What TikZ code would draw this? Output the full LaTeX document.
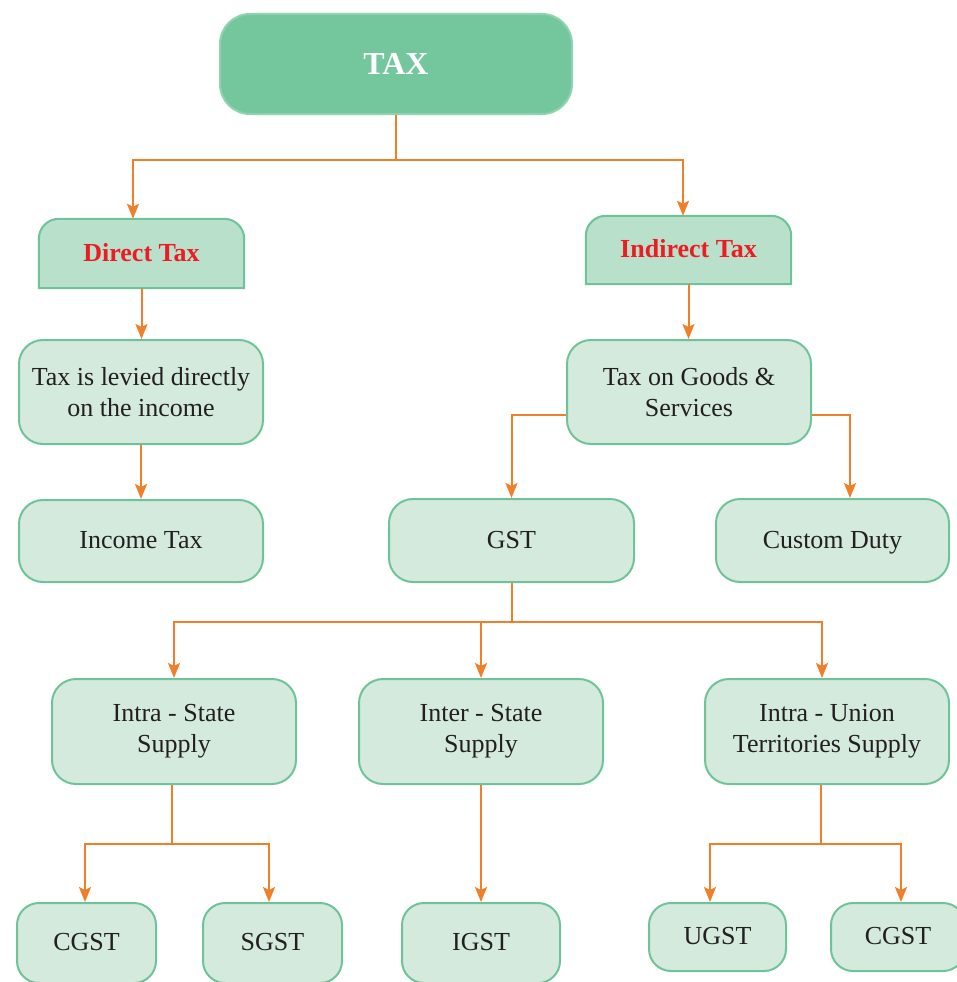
\documentclass[tikz,border=0pt]{standalone}
\usepackage{fontspec}
\setmainfont{Liberation Serif}
\usetikzlibrary{arrows.meta}
\definecolor{taxfill}{RGB}{116,199,157}
\definecolor{taxedge}{RGB}{140,212,176}
\definecolor{headfill}{RGB}{184,224,202}
\definecolor{boxfill}{RGB}{212,234,221}
\definecolor{boxedge}{RGB}{110,196,152}
\definecolor{headred}{RGB}{237,28,36}
\definecolor{linkorange}{RGB}{240,127,42}
\definecolor{ink}{RGB}{35,31,32}
\pgfdeclarelayer{bg}
\pgfsetlayers{bg,main}
\tikzset{
  x=1pt, y=-1pt,
  box/.style={rectangle, rounded corners=24pt, draw=boxedge, fill=boxfill,
    line width=2pt, align=center, inner sep=0pt, text=ink,
    font=\fontsize{26}{31}\selectfont},
  oneline/.style={text height=21pt, text depth=6pt},
  headbox/.style={rectangle, inner sep=0pt, text=headred,
    text height=21pt, text depth=6pt,
    font=\fontsize{26}{31}\selectfont\bfseries},
  headshape/.style={fill=headfill, draw=boxedge, line width=2pt},
  arr/.style={draw=linkorange, line width=2pt,
    -{Stealth[length=15pt, width=12pt, inset=3pt]}}
}
\begin{document}
\begin{tikzpicture}
\useasboundingbox (0,0) rectangle (957,982);
\clip (0,0) rectangle (957,982);

% root
\node[rectangle, rounded corners=30pt, draw=taxedge, fill=taxfill, line width=2pt,
      minimum width=352pt, minimum height=100pt, text=white,
      font=\fontsize{32}{38}\selectfont\bfseries] (tax) at (396,64) {TAX};

% the two branches (boxes rounded only on top)
\node[headbox, minimum width=205pt, minimum height=69pt] (dt) at (141.5,253.5) {Direct Tax};
\node[headbox, minimum width=205pt, minimum height=68pt] (it) at (688.5,250) {Indirect Tax};
\begin{pgfonlayer}{bg}
  \foreach \n in {dt,it}{
    \filldraw[headshape] (\n.south west)
      -- ([yshift=-20pt]\n.north west)
      .. controls ([yshift=-9pt]\n.north west) and ([xshift=9pt]\n.north west) .. ([xshift=20pt]\n.north west)
      -- ([xshift=-20pt]\n.north east)
      .. controls ([xshift=-9pt]\n.north east) and ([yshift=-9pt]\n.north east) .. ([yshift=-20pt]\n.north east)
      -- (\n.south east) -- cycle;
  }
\end{pgfonlayer}

% second level
\node[box, minimum width=244pt, minimum height=104pt] (lev) at (141,392) {Tax is levied directly\\on the income};
\node[box, oneline, minimum width=244pt, minimum height=82pt] (inc) at (141,541) {Income Tax};
\node[box, minimum width=244pt, minimum height=104pt] (tog) at (689,392) {Tax on Goods \&\\Services};
\node[box, oneline, minimum width=245pt, minimum height=83pt] (gst) at (511.5,540.5) {GST};
\node[box, oneline, minimum width=233pt, minimum height=83pt] (cus) at (832.5,540.5) {Custom Duty};

% supply types
\node[box, minimum width=244pt, minimum height=105pt] (intra) at (174,731.5) {Intra - State\\Supply};
\node[box, minimum width=244pt, minimum height=105pt] (inter) at (481,731.5) {Inter - State\\Supply};
\node[box, minimum width=244pt, minimum height=105pt] (union) at (827,731.5) {Intra - Union\\Territories Supply};

% leaves
\node[box, oneline, rounded corners=22pt, minimum width=139pt, minimum height=80pt] (cg1) at (86.5,943) {CGST};
\node[box, oneline, rounded corners=22pt, minimum width=139pt, minimum height=80pt] (sg) at (272.5,943) {SGST};
\node[box, oneline, rounded corners=22pt, minimum width=158pt, minimum height=80pt] (ig) at (481,943) {IGST};
\node[box, oneline, rounded corners=22pt, minimum width=137pt, minimum height=68pt] (ug) at (717.5,937) {UGST};
\node[box, oneline, rounded corners=22pt, minimum width=134pt, minimum height=68pt] (cg2) at (898,937) {CGST};

% junction points
\coordinate (j1) at (396,160);
\coordinate (j2) at (511.5,622);
\coordinate (j3) at (172,844);
\coordinate (j4) at (821,844);

% connectors
\draw[arr] (tax.south) -- (j1) -| ([xshift=-8.5pt]dt.north);
\draw[arr] (tax.south) -- (j1) -| ([xshift=-5.5pt]it.north);
\draw[arr] (dt.south) -- (dt.south |- lev.north);
\draw[arr] (it.south) -- (it.south |- tog.north);
\draw[arr] (lev.south) -- (inc.north);
\draw[arr] ([yshift=-23pt]tog.west) -| (gst.north);
\draw[arr] ([yshift=-23pt]tog.east) -| ([xshift=17.5pt]cus.north);
\draw[arr] (gst.south) -- (j2) -| (intra.north);
\draw[arr] (gst.south) -- (j2) -| (inter.north);
\draw[arr] (gst.south) -- (j2) -| ([xshift=-5pt]union.north);
\draw[arr] (intra.south -| j3) -- (j3) -| ([xshift=-1.5pt]cg1.north);
\draw[arr] (intra.south -| j3) -- (j3) -| ([xshift=-3.5pt]sg.north);
\draw[arr] (inter.south) -- (ig.north);
\draw[arr] (union.south -| j4) -- (j4) -| ([xshift=-7.5pt]ug.north);
\draw[arr] (union.south -| j4) -- (j4) -| ([xshift=3pt]cg2.north);
\end{tikzpicture}
\end{document}
